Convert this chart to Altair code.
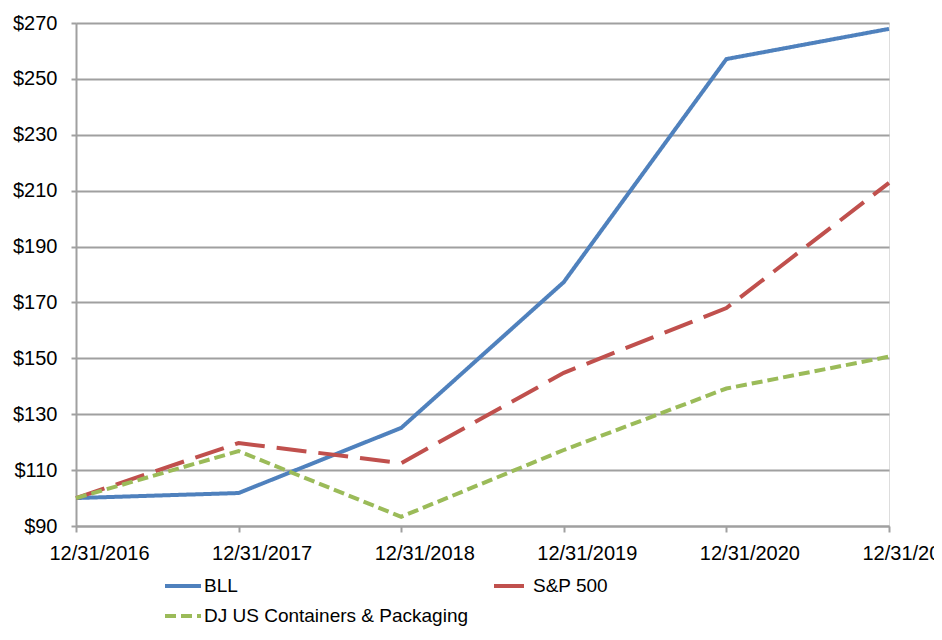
import altair as alt
import pandas as pd

dates = ["12/31/2016", "12/31/2017", "12/31/2018", "12/31/2019", "12/31/2020", "12/31/2021"]
series_names = ["BLL", "S&P 500", "DJ US Containers & Packaging"]
legend_order = ["BLL", "DJ US Containers & Packaging", "S&P 500"]  # column-major fill
bll = [100, 101.8, 125.1, 177.3, 257.1, 267.9]
sp500 = [100, 119.7, 112.5, 144.8, 168.0, 212.8]
dj = [100, 116.8, 93.3, 117.2, 139.2, 150.6]
colors = ["#4F81BD", "#C0504D", "#9BBB59"]
dashes = [[1, 0], [30, 12], [11, 5]]
y_ticks = [90, 110, 130, 150, 170, 190, 210, 230, 250, 270]

rows = []
for i, (name, vals) in enumerate(zip(series_names, [bll, sp500, dj])):
    for d, v in zip(dates, vals):
        rows.append({"date": d, "series": name, "value": v, "k": i})
df = pd.DataFrame(rows)

FONT = "Liberation Sans"
GRID = "#A0A0A0"

legend = alt.Legend(
    title=None, orient="none", legendX=87, legendY=543, columns=2,
    values=legend_order,
    symbolType="stroke", symbolSize=1296, symbolStrokeWidth=4,
    labelFont=FONT, labelFontSize=19, labelColor="#000000",
    columnPadding=17, rowPadding=0, labelOffset=1, labelLimit=400,
)

chart = alt.Chart(df).mark_line(strokeWidth=4, strokeCap="butt").encode(
    x=alt.X("date:O", sort=dates, scale=alt.Scale(type="point", padding=0),
            axis=alt.Axis(title=None, labelAngle=0, grid=False, tickSize=6,
                          tickColor=GRID, tickWidth=2, domainColor=GRID, domainWidth=2,
                          labelFont=FONT, labelFontSize=20, labelColor="#000000",
                          labelPadding=11, labelOffset=23)),
    y=alt.Y("value:Q", scale=alt.Scale(domain=[90, 270], nice=False, zero=False),
            axis=alt.Axis(title=None, values=y_ticks, labelExpr="'$' + datum.value",
                          grid=True, gridColor=GRID, gridWidth=2, tickSize=5,
                          tickColor=GRID, tickWidth=2, domainColor=GRID, domainWidth=2,
                          labelFont=FONT, labelFontSize=20, labelColor="#000000",
                          labelPadding=14)),
    color=alt.Color("series:N", scale=alt.Scale(domain=series_names, range=colors),
                    legend=legend),
    strokeDash=alt.StrokeDash("series:N", scale=alt.Scale(domain=series_names, range=dashes),
                              legend=legend),
    order=alt.Order("k:Q"),
).properties(
    width=813, height=503,
    autosize=alt.AutoSizeParams(type="none"),
    padding={"left": 68, "top": 15, "right": 45, "bottom": 106},
).configure_view(stroke=None).configure(background="white")

chart.save("out.html", embed_options={"renderer": "svg", "actions": False})
